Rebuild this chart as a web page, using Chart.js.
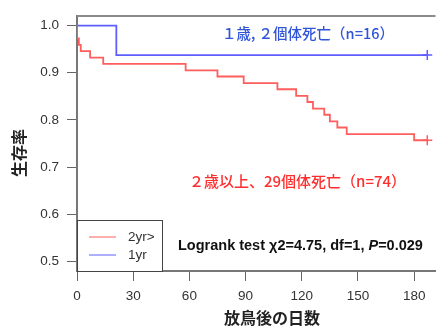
<!DOCTYPE html>
<html>
<head>
<meta charset="utf-8">
<script src="https://cdn.jsdelivr.net/npm/chart.js@4/dist/chart.umd.min.js"></script>
<style>
  html, body { margin: 0; padding: 0; background: #fff; }
  canvas { display: block; }
</style>
</head>
<body>
<canvas id="km" width="442" height="327"></canvas>
<script>
// Kaplan–Meier survival after release, by age group
const olderDays   = [0, 0, 1, 2, 7, 14, 58, 75, 89, 107, 117, 123, 126, 132, 135, 139, 144, 180, 187];
const olderSurv   = [1, 0.973, 0.959, 0.946, 0.932, 0.919, 0.905, 0.892, 0.878, 0.865, 0.851, 0.838, 0.824, 0.811, 0.797, 0.784, 0.770, 0.757, 0.757];
const youngDays   = [0, 21, 187];
const youngSurv   = [1, 0.9375, 0.9375];
const seriesNames = ['2yr>', '1yr'];
const xTicks = [0, 30, 60, 90, 120, 150, 180];
const yTicks = [0.5, 0.6, 0.7, 0.8, 0.9, 1.0];
const xTitle = '放鳥後の日数';
const yTitle = '生存率';
const noteYoung = '１歳, ２個体死亡（n=16）';
const noteOlder = '２歳以上、29個体死亡（n=74）';
const testParts = [['Logrank test χ2=4.75, df=1, ', 'bold'], ['P', 'italic bold'], ['=0.029', 'bold']];

const RED = '#ff5e5e';
const BLUE = '#5e5eff';
const SANS = '"Liberation Sans", Arial, sans-serif';
const CJK = '"Noto Sans CJK JP", "Noto Sans", sans-serif';

const pts = (xs, ys) => xs.map((x, i) => ({ x, y: ys[i] }));
const lastPt = (xs, ys) => [{ x: xs[xs.length - 1], y: ys[ys.length - 1] }];

const decorations = {
  id: 'decorations',
  afterDraw(chart) {
    const { ctx, chartArea: a } = chart;
    ctx.save();
    // top frame line
    ctx.strokeStyle = '#8a8a8a';
    ctx.lineWidth = 2;
    ctx.beginPath();
    ctx.moveTo(a.left, a.top);
    ctx.lineTo(a.right, a.top);
    ctx.stroke();

    // legend box in lower-left corner
    const bx = a.left, bw = 86, bh = 51, by = a.bottom - bh;
    ctx.fillStyle = '#fff';
    ctx.fillRect(bx, by, bw, bh);
    ctx.strokeStyle = '#444';
    ctx.lineWidth = 1;
    ctx.strokeRect(bx + 0.5, by + 0.5, bw - 1, bh);
    const legendColors = [RED, BLUE];
    ctx.font = '13.5px ' + SANS;
    ctx.textBaseline = 'middle';
    ctx.textAlign = 'left';
    seriesNames.forEach((name, i) => {
      const ly = by + 17 + i * 18;
      ctx.strokeStyle = legendColors[i];
      ctx.lineWidth = 1;
      ctx.beginPath();
      ctx.moveTo(bx + 12, ly);
      ctx.lineTo(bx + 39, ly);
      ctx.stroke();
      ctx.fillStyle = '#333';
      ctx.fillText(name, bx + 51, ly);
    });

    // group annotations
    ctx.font = '500 14.5px ' + CJK;
    ctx.fillStyle = '#2f54d9';
    ctx.fillText(noteYoung, 222, 33);
    ctx.font = '500 15px ' + CJK;
    ctx.fillStyle = '#ff2e2e';
    ctx.fillText(noteOlder, 189, 181);

    // log-rank result
    let tx = 178;
    testParts.forEach(([s, style]) => {
      ctx.font = style + ' 14.5px ' + SANS;
      ctx.fillStyle = '#111';
      ctx.fillText(s, tx, 246);
      tx += ctx.measureText(s).width;
    });

    // axis titles
    ctx.font = 'bold 16px ' + CJK;
    ctx.fillStyle = '#222';
    ctx.textAlign = 'center';
    ctx.fillText(xTitle, 272, 318);
    ctx.translate(19, 153);
    ctx.rotate(-Math.PI / 2);
    ctx.fillText(yTitle, 0, 0);
    ctx.restore();
  }
};

new Chart(document.getElementById('km'), {
  type: 'line',
  data: {
    datasets: [
      { label: seriesNames[0], data: pts(olderDays, olderSurv), stepped: 'before',
        borderColor: RED, borderWidth: 1.8, pointRadius: 0, fill: false },
      { label: seriesNames[1], data: pts(youngDays, youngSurv), stepped: 'before',
        borderColor: BLUE, borderWidth: 1.8, pointRadius: 0, fill: false },
      { type: 'scatter', data: lastPt(olderDays, olderSurv), pointStyle: 'cross',
        pointRadius: 5, borderColor: RED, borderWidth: 1.5 },
      { type: 'scatter', data: lastPt(youngDays, youngSurv), pointStyle: 'cross',
        pointRadius: 5, borderColor: BLUE, borderWidth: 1.5 }
    ]
  },
  options: {
    responsive: false,
    animation: false,
    devicePixelRatio: 1,
    layout: { padding: { top: 14, right: 0, left: 0, bottom: 0 } },
    plugins: { legend: { display: false }, tooltip: { enabled: false } },
    scales: {
      x: {
        type: 'linear', min: 0, max: 191.4,
        afterFit: s => { s.height = 56; },
        afterBuildTicks: s => { s.ticks = xTicks.map(v => ({ value: v })); },
        border: { display: true, color: '#777', width: 2 },
        grid: { drawOnChartArea: false, drawTicks: true, tickLength: 10, tickColor: '#666', tickWidth: 1 },
        ticks: { padding: 7, color: '#333', font: { family: SANS, size: 13.5 }, maxRotation: 0, autoSkip: false }
      },
      y: {
        type: 'linear', min: 0.48, max: 1.02,
        afterFit: s => { s.width = 77; },
        afterBuildTicks: s => { s.ticks = yTicks.map(v => ({ value: v })); },
        border: { display: true, color: '#777', width: 2 },
        grid: { drawOnChartArea: false, drawTicks: true, tickLength: 10, tickColor: '#666', tickWidth: 1 },
        ticks: { padding: 8, color: '#333', font: { family: SANS, size: 13.5 },
                 callback: v => v.toFixed(1) }
      }
    }
  },
  plugins: [decorations]
});
</script>
</body>
</html>
